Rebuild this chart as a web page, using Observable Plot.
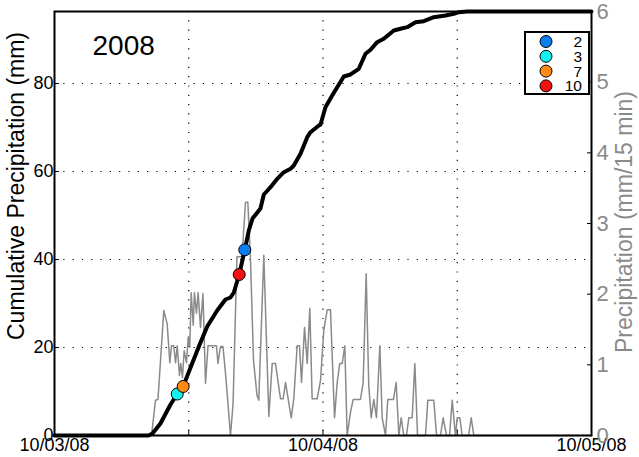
<!DOCTYPE html>
<html><head><meta charset="utf-8">
<script src="https://cdn.jsdelivr.net/npm/d3@7"></script>
<script src="https://cdn.jsdelivr.net/npm/@observablehq/plot@0.6"></script>
<style>
body{margin:0;background:#fff;}
#wrap{position:relative;width:639px;height:457px;font-family:"Liberation Sans",Arial,sans-serif;}
#legend{position:absolute;left:524px;top:31px;}
</style></head><body><div id="wrap"></div>
<script>
// ---- data (hours after 10/03/08 00:00) ----
const precipHours = [
  0, 8.67, 9.03, 9.25, 9.77, 10.07, 10.31, 10.46, 10.66, 10.82,
  10.97, 11.17, 11.29, 11.44, 11.59, 11.80, 11.95, 12.09, 12.22, 12.40,
  12.51, 12.69, 12.84, 13.05, 13.27, 13.50, 13.72, 14.48, 14.61, 14.84,
  15.06, 15.28, 15.51, 15.73, 15.96, 16.31, 16.76, 17.07, 17.28, 17.52,
  17.79, 18.10, 18.26, 18.71, 19.16, 19.46, 19.75, 20.20, 20.44, 20.65,
  21.16, 21.39, 21.69, 21.90, 22.08, 22.35, 22.59, 22.82, 23.03, 23.48,
  23.78, 24.07, 24.38, 24.67, 25.03, 25.27, 25.50, 25.72, 25.95, 26.16,
  26.46, 26.70, 27.35, 27.59, 27.86, 28.09, 28.31, 28.54, 28.78, 29.08,
  29.29, 29.59, 29.79, 30.30, 30.54, 30.78, 30.99, 31.22, 31.46, 31.67,
  31.97, 32.21, 32.45, 33.16, 33.37, 33.90, 34.15, 34.50, 34.74, 35.04,
  35.31, 35.55, 35.84, 36.00, 36.23, 36.44, 37.01, 37.25, 37.48, 48
];
const precipValues = [ // mm / 15 min
  0, 0, 0.50, 0.51, 1.77, 1.58, 1.03, 1.27, 1.27, 1.03,
  1.27, 0.85, 1.02, 0.82, 1.20, 1.03, 1.39, 1.25, 2.02, 1.56,
  2.02, 1.73, 2.02, 1.53, 2.01, 0.74, 1.27, 1.27, 1.02, 1.26,
  1.26, 0.89, 0.45, 0, 0.45, 2.53, 2.53, 3.30, 3.30, 2.48,
  1.06, 0.57, 0.50, 2.55, 0.27, 1.02, 1.02, 0.52, 0.52, 0.75,
  0.25, 0.52, 1.27, 1.27, 0.75, 1.53, 1.02, 1.80, 0.52, 0.52,
  0.78, 1.49, 1.78, 1.78, 0.25, 0.75, 1.02, 1.02, 1.27, 0,
  0.33, 0.51, 0.51, 0.75, 2.29, 0.71, 0.25, 0.51, 0.25, 1.27,
  0.25, 0, 0.51, 0.51, 0.75, 0, 0.25, 0, 0, 0.25,
  0.25, 1.02, 0, 0, 0.50, 0.50, 0, 0, 0.25, 0,
  0, 0.50, 0, 0.25, 0.25, 0, 0, 0.25, 0, 0
];
const cumHours = [
  0, 8.40, 8.76, 9.47, 10.37, 10.97, 11.50, 12.16, 13.05, 13.65,
  14.54, 15.28, 15.73, 16.03, 16.51, 17.01, 17.37, 17.70, 18.06, 18.41,
  18.71, 19.04, 19.31, 19.91, 20.50, 21.10, 21.39, 21.99, 22.59, 22.88,
  23.63, 23.78, 24.22, 24.82, 25.27, 25.86, 26.46, 27.20, 27.80, 28.25,
  28.84, 29.43, 30.33, 30.93, 31.53, 32.27, 33.01, 33.90, 34.95, 35.69,
  36.14, 36.89, 48
];
const cumValues = [ // mm
  0, 0, 0.45, 2.73, 7.05, 9.43, 11.14, 15.45, 21.14, 24.77,
  28.41, 30.91, 31.36, 32.50, 36.59, 42.20, 46.59, 49.32, 50.45, 51.59,
  54.77, 55.68, 56.43, 58.34, 59.84, 60.61, 61.36, 64.02, 67.80, 68.93,
  70.45, 70.68, 74.61, 77.27, 79.16, 81.59, 82.05, 83.34, 86.75, 87.66,
  89.39, 90.16, 92.05, 92.43, 92.80, 93.93, 94.16, 95.07, 95.45, 95.84,
  96.20, 96.36, 96.36
];
const gageNames = ["2", "3", "7", "10"];
const gageHours = [17.01, 10.97, 11.50, 16.51];
const gageCum = [42.20, 9.43, 11.14, 36.59];
const gageColors = ["#0b7ef0", "#14f0f0", "#ff8a14", "#f21010"];
const yearLabel = "2008";
const leftTicks = [0, 20, 40, 60, 80];
const rightTicks = [0, 1, 2, 3, 4, 5, 6];
const labelDays = [0, 24, 48];
const gridHours = [12, 24, 36];
const tickHours = [0, 12, 24, 36, 48];
const cumMax = 96.36, precipMax = 6;

// ---- build ----
const t0 = Date.UTC(2008, 9, 3);
const toDate = h => new Date(t0 + h * 3600e3);
const f = cumMax / precipMax;
const precip = precipHours.map((h, i) => ({t: toDate(h), v: precipValues[i]}));
const cum = cumHours.map((h, i) => ({t: toDate(h), v: cumValues[i]}));
const gages = gageNames.map((n, i) => ({name: n, t: toDate(gageHours[i]), v: gageCum[i], c: gageColors[i]}));
const gray = "#8a8a8a";
const FONT = "'Liberation Sans', Arial, sans-serif";
const dot = {stroke: "#000", strokeOpacity: 1, strokeDasharray: "1.2,8.1", strokeWidth: 1.2};

const chart = Plot.plot({
  width: 639, height: 457,
  marginLeft: 54, marginRight: 48, marginTop: 11, marginBottom: 22,
  style: {fontFamily: FONT, overflow: "visible", background: "#fff"},
  x: {type: "utc", domain: [toDate(0), toDate(48)], label: null},
  y: {domain: [0, cumMax], label: null},
  marks: [
    Plot.gridY(leftTicks.slice(1), dot),
    Plot.gridX(gridHours.map(toDate), dot),
    Plot.line(precip, {x: "t", y: d => d.v * f, stroke: gray, strokeWidth: 1.5}),
    Plot.line(cum, {x: "t", y: "v", stroke: "#000", strokeWidth: 4, strokeLinejoin: "round", strokeLinecap: "round"}),
    Plot.dot(gages, {x: "t", y: "v", r: 6, fill: "c", stroke: "#000", strokeWidth: 1}),
    Plot.frame({stroke: "#000", strokeWidth: 2}),
    // axes
    Plot.axisX({ticks: labelDays.map(toDate), tickSize: 0, tickPadding: 3, tickFormat: d3.utcFormat("%m/%d/%y"), fontSize: 18, color: "#000", label: null}),
    Plot.axisX({ticks: tickHours.map(toDate), tickSize: -5, tickFormat: () => "", color: "#000", label: null}),
    Plot.axisY({ticks: leftTicks, tickSize: 0, tickPadding: 1, fontSize: 18, color: "#000", label: null}),
    Plot.axisY({ticks: leftTicks, tickSize: -5, tickFormat: () => "", color: "#000", label: null}),
    Plot.axisY({anchor: "right", ticks: rightTicks.map(k => k * f), tickSize: 0, tickPadding: 5, tickFormat: d => String(Math.round(d / f)), fontSize: 22, color: gray, label: null}),
    Plot.axisY({anchor: "right", ticks: rightTicks.map(k => k * f), tickSize: -5, tickFormat: () => "", color: "#000", label: null}),
    // texts
    Plot.text([yearLabel], {frameAnchor: "top-left", textAnchor: "start", lineAnchor: "top", dx: 38, dy: 24, fontSize: 28, fill: "#000"}),
    Plot.text(["Cumulative Precipitation (mm)"], {frameAnchor: "left", textAnchor: "middle", rotate: -90, dx: -38, dy: -37.5, fontSize: 23, fill: "#000"}),
    Plot.text(["Precipitation (mm/15 min)"], {frameAnchor: "right", textAnchor: "middle", rotate: -90, dx: 33, dy: -1.5, fontSize: 23, fill: gray})
  ]
});
const wrap = document.getElementById("wrap");
wrap.appendChild(chart);

// legend
const lg = d3.select(wrap).append("svg").attr("id", "legend")
  .attr("width", 67).attr("height", 65).style("font-family", FONT);
lg.append("rect").attr("x", 1).attr("y", 1).attr("width", 64).attr("height", 62)
  .attr("fill", "#fff").attr("stroke", "#000").attr("stroke-width", 2);
const rows = lg.selectAll("g").data(gages).join("g")
  .attr("transform", (d, i) => `translate(0,${10.5 + i * 14.8})`);
rows.append("circle").attr("cx", 22).attr("cy", 0).attr("r", 6)
  .attr("fill", d => d.c).attr("stroke", "#000").attr("stroke-width", 1);
rows.append("text").attr("x", 58).attr("y", 0).attr("dy", "0.36em")
  .attr("text-anchor", "end").attr("font-size", 15.5).text(d => d.name);
</script></body></html>
